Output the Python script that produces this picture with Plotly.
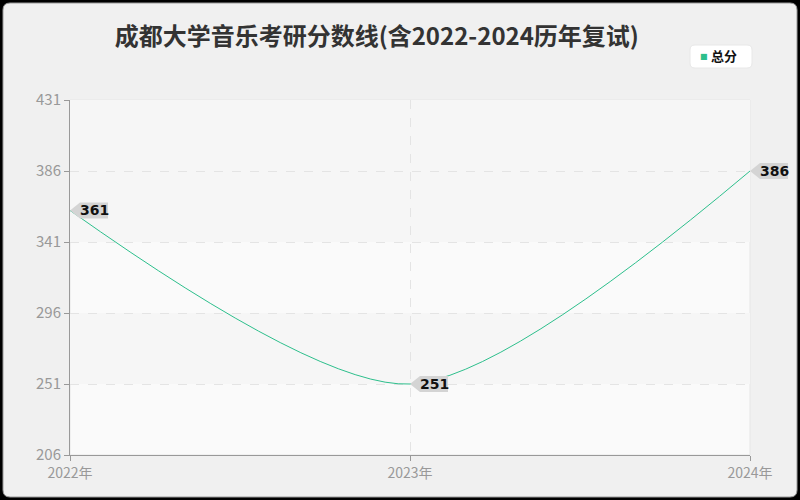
import plotly.graph_objects as go

title = "成都大学音乐考研分数线(含2022-2024历年复试)"
series_name = "总分"
years = ["2022年", "2023年", "2024年"]
scores = [361, 251, 386]
y_ticks = [206, 251, 296, 341, 386, 431]

W, H = 800, 500
ML, MR, MT, MB = 70, 50, 100, 45
PW, PH = W - ML - MR, H - MT - MB
LINE = "#2dbf8c"
FONT = "Noto Sans CJK SC"
Y_RANGE = [y_ticks[0], y_ticks[-1]]
X_RANGE = [0, len(years) - 1]


def px(x):
    return (x - ML) / PW


def py(y):
    return (H - MB - y) / PH


def rounded(x0, y0, x1, y1, r):
    return (f"M {px(x0 + r)},{py(y0)} L {px(x1 - r)},{py(y0)} Q {px(x1)},{py(y0)} {px(x1)},{py(y0 + r)} "
            f"L {px(x1)},{py(y1 - r)} Q {px(x1)},{py(y1)} {px(x1 - r)},{py(y1)} "
            f"L {px(x0 + r)},{py(y1)} Q {px(x0)},{py(y1)} {px(x0)},{py(y1 - r)} "
            f"L {px(x0)},{py(y0 + r)} Q {px(x0)},{py(y0)} {px(x0 + r)},{py(y0)} Z")


fig = go.Figure()
fig.add_trace(go.Scatter(
    x=years, y=scores, mode="lines", name=series_name,
    line=dict(color=LINE, width=1, shape="spline", smoothing=0.8),
    showlegend=False, hoverinfo="skip"))

shapes = [
    dict(type="path", xref="paper", yref="paper", path=rounded(3, 3, 797, 497, 7),
         fillcolor="#f0f0f0", line=dict(color="#9a9a9a", width=1), layer="below"),
    dict(type="rect", xref="paper", yref="paper", x0=0, x1=1, y0=0, y1=1,
         fillcolor="#fafafa", line=dict(color="#e6e6e6", width=1), layer="below"),
    dict(type="path", xref="paper", yref="paper", path=rounded(690, 45, 752, 68, 5),
         fillcolor="#ffffff", line=dict(color="#e8e8e8", width=1), layer="below"),
]
# alternating (hatched-looking) bands between grid lines
hatched = [(y_ticks[1], y_ticks[2]), (y_ticks[3], y_ticks[4]), (y_ticks[4], y_ticks[5])]
for lo, hi in hatched:
    shapes.append(dict(type="rect", xref="paper", yref="y", x0=0, x1=1, y0=lo, y1=hi,
                       fillcolor="#f6f6f6", line=dict(width=0), layer="below"))

annotations = [
    dict(x=px(698), y=py(56.5), xref="paper", yref="paper", text="■", showarrow=False,
         xanchor="left", yanchor="middle", font=dict(family="DejaVu Sans", size=8, color=LINE)),
    dict(x=px(709), y=py(56), xref="paper", yref="paper", text=f"<b>{series_name}</b>", showarrow=False,
         xanchor="left", yanchor="middle", font=dict(family=FONT, size=13, color="#111111")),
]
for i, (xv, yv) in enumerate(zip(years, scores)):
    # arrow-shaped label box, drawn in pixels relative to the data point (paper refs so it is not clipped)
    xa = (i - X_RANGE[0]) / (X_RANGE[1] - X_RANGE[0])
    ya = (yv - Y_RANGE[0]) / (Y_RANGE[1] - Y_RANGE[0])
    shapes.append(dict(
        type="path", xref="paper", yref="paper", xsizemode="pixel", ysizemode="pixel",
        xanchor=xa, yanchor=ya,
        path="M 0,0 L 10,8 L 38,8 L 38,-8 L 10,-8 Z",
        fillcolor="#d4d4d4", line=dict(width=0), layer="above"))
    annotations.append(dict(
        x=xv, y=yv, xref="x", yref="y", text=f"<b>{yv}</b>", showarrow=False,
        xanchor="center", yanchor="middle", xshift=24, yshift=0,
        font=dict(family="DejaVu Sans", size=14, color="#111111")))

fig.update_layout(
    width=W, height=H,
    margin=dict(l=ML, r=MR, t=MT, b=MB),
    paper_bgcolor="#000000",
    plot_bgcolor="rgba(0,0,0,0)",
    showlegend=False,
    title=dict(text=title, x=0.471, xanchor="center", y=1 - 37 / H, yanchor="middle",
               font=dict(family=FONT, size=24, color="#333333", weight="bold")),
    shapes=shapes,
    annotations=annotations,
    xaxis=dict(
        type="category", range=X_RANGE, showgrid=True, gridcolor="#e4e4e4", griddash="dash", gridwidth=1,
        showline=True, linecolor="#999999", linewidth=1, ticks="outside", ticklen=5, tickcolor="#999999",
        tickfont=dict(family=FONT, size=14, color="#999999"), zeroline=False),
    yaxis=dict(
        range=Y_RANGE, tickvals=y_ticks, showgrid=True, gridcolor="#e4e4e4", griddash="dash",
        showline=True, linecolor="#999999", linewidth=1, ticks="outside", ticklen=5, tickcolor="#999999",
        tickfont=dict(family=FONT, size=15, color="#999999"), zeroline=False),
)

fig.write_html("out.html", config={"displayModeBar": False},
               post_script="document.body.style.margin='0';document.body.style.background='#000';"
                           "document.body.style.overflow='hidden';")
